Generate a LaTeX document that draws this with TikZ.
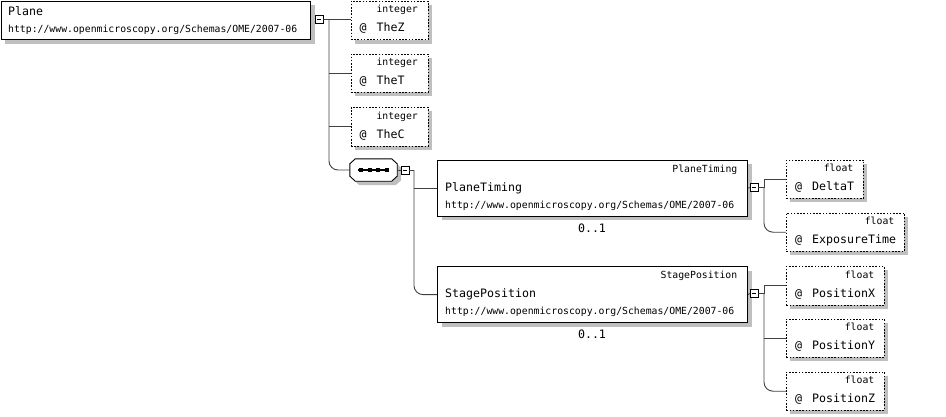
\documentclass[tikz,border=0pt]{standalone}
\usepackage{fontspec}
\setmonofont{DejaVu Sans Mono}
\usetikzlibrary{shadows}
\tikzset{
  shad/.style={drop shadow={shadow xshift=4pt, shadow yshift=-4pt, fill=black!25, opacity=1}},
  elembox/.style={draw=black, line width=1.2pt, fill=white, shad, anchor=north west, inner sep=0pt, minimum height=56pt},
  attrbox/.style={draw=black, line width=0.9pt, dash pattern=on 1.6pt off 1.6pt, fill=white, shad, anchor=north west, inner sep=0pt, minimum height=38.5pt},
  seqline/.style={draw=black, line width=0.9pt, fill=white, shad},
  colbox/.style={draw=black, line width=0.8pt, fill=white, inner sep=0pt, minimum size=8pt,
    path picture={\draw[line width=0.8pt] ([xshift=1.8pt]path picture bounding box.west) -- ([xshift=-1.8pt]path picture bounding box.east);}},
  conn/.style={draw=black!75, line width=0.9pt},
  smalltxt/.style={font=\ttfamily\fontsize{9.8}{11}\selectfont, inner sep=0pt},
  nametxt/.style={font=\ttfamily\fontsize{11.6}{13}\selectfont, inner sep=0pt},
}
\newcommand\attrnode[6]{% name, x, y, width, type, label
  \node[attrbox, minimum width=#4pt] (#1) at (#2,#3) {};
  \node[smalltxt, anchor=base east] (#1-t) at (#2+#4-9.5,#3+12) {#5};
  \node[nametxt, anchor=base west] (#1-at) at (#2+9,#3+31) {@};
  \node[nametxt, anchor=base west] (#1-n) at (#2+26,#3+31) {#6};
}
\newcommand\elemnode[5]{% name, x, y, type, label
  \node[elembox, minimum width=310pt] (#1) at (#2,#3) {};
  \node[smalltxt, anchor=base east] (#1-t) at (#2+300.5,#3+12.5) {#4};
  \node[nametxt, anchor=base west] (#1-n) at (#2+8,#3+31.5) {#5};
  \node[smalltxt, anchor=base west] (#1-u) at (#2+8,#3+48.5) {http://www.openmicroscopy.org/Schemas/OME/2007-06};
  \node[nametxt, anchor=base] (#1-m) at (#2+155,#3+72.5) {0..1};
}
\begin{document}
\begin{tikzpicture}[x=1pt,y=-1pt]
\useasboundingbox (0,0) rectangle (946,416);

% root element
\node[elembox, minimum width=309.5pt, minimum height=38.5pt] (plane) at (0.6,0.6) {};
\node[nametxt, anchor=base west] (plane-n) at (8,15) {Plane};
\node[smalltxt, anchor=base west] (plane-u) at (8,32) {http://www.openmicroscopy.org/Schemas/OME/2007-06};
\node[colbox] (plane-c) at (319,19.5) {};

% attributes of Plane
\attrnode{thez}{350.5}{0.6}{77}{integer}{TheZ}
\attrnode{thet}{350.5}{53.5}{77}{integer}{TheT}
\attrnode{thec}{350.5}{107}{77}{integer}{TheC}

% sequence compositor
\node[inner sep=0pt, minimum width=47pt, minimum height=22pt] (seq) at (373.5,170) {};
\path[seqline] ([xshift=5.5pt]seq.north west) -- ([xshift=-5.5pt]seq.north east)
  -- ([yshift=-5pt]seq.north east) -- ([yshift=5pt]seq.south east)
  -- ([xshift=-5.5pt]seq.south east) -- ([xshift=5.5pt]seq.south west)
  -- ([yshift=5pt]seq.south west) -- ([yshift=-5pt]seq.north west) -- cycle;
\draw[line width=1.8pt] (358,170) -- (389,170);
\foreach \sx in {361,369.7,378.3,387}{\fill (\sx-2,168) rectangle (\sx+2,172);}
\node[colbox] (seq-c) at (405,170) {};

% child elements
\elemnode{pt}{437}{159.5}{PlaneTiming}{PlaneTiming}
\node[colbox] (pt-c) at (754,187.5) {};
\elemnode{sp}{437}{266}{StagePosition}{StagePosition}
\node[colbox] (sp-c) at (754,293.5) {};

% attributes of PlaneTiming
\attrnode{deltat}{786}{159.5}{77}{float}{DeltaT}
\attrnode{expo}{786}{212.5}{118}{float}{ExposureTime}

% attributes of StagePosition
\attrnode{posx}{786}{266}{98}{float}{PositionX}
\attrnode{posy}{786}{318.5}{98}{float}{PositionY}
\attrnode{posz}{786}{371.5}{98}{float}{PositionZ}

% connectors
\coordinate (j1) at (329,19.5);
\draw[conn] (plane-c.east) -- (j1) -- (j1 -| thez.west);
\draw[conn] (thet.west -| j1) -- (thet.west);
\draw[conn] (thec.west -| j1) -- (thec.west);
\draw[conn, rounded corners=9pt] (j1) |- (seq.west);

\coordinate (j2) at (414,170);
\draw[conn] (seq.east) -- (seq-c.west);
\draw[conn] (seq-c.east) -- (j2);
\draw[conn] (pt.west -| j2) -- (pt.west);
\draw[conn, rounded corners=9pt] (j2) |- (sp.west);

\coordinate (j3) at (764,187.5);
\draw[conn] (pt.east) -- (pt-c.west);
\draw[conn] (pt-c.east) -- (j3);
\draw[conn] (deltat.west) -- (deltat.west -| j3) -- (j3);
\draw[conn, rounded corners=9pt] (j3) |- (expo.west);

\coordinate (j4) at (764,293.5);
\draw[conn] (sp.east) -- (sp-c.west);
\draw[conn] (sp-c.east) -- (j4);
\draw[conn] (posx.west) -- (posx.west -| j4) -- (j4);
\draw[conn] (posy.west -| j4) -- (posy.west);
\draw[conn, rounded corners=9pt] (j4) |- (posz.west);
\end{tikzpicture}
\end{document}
